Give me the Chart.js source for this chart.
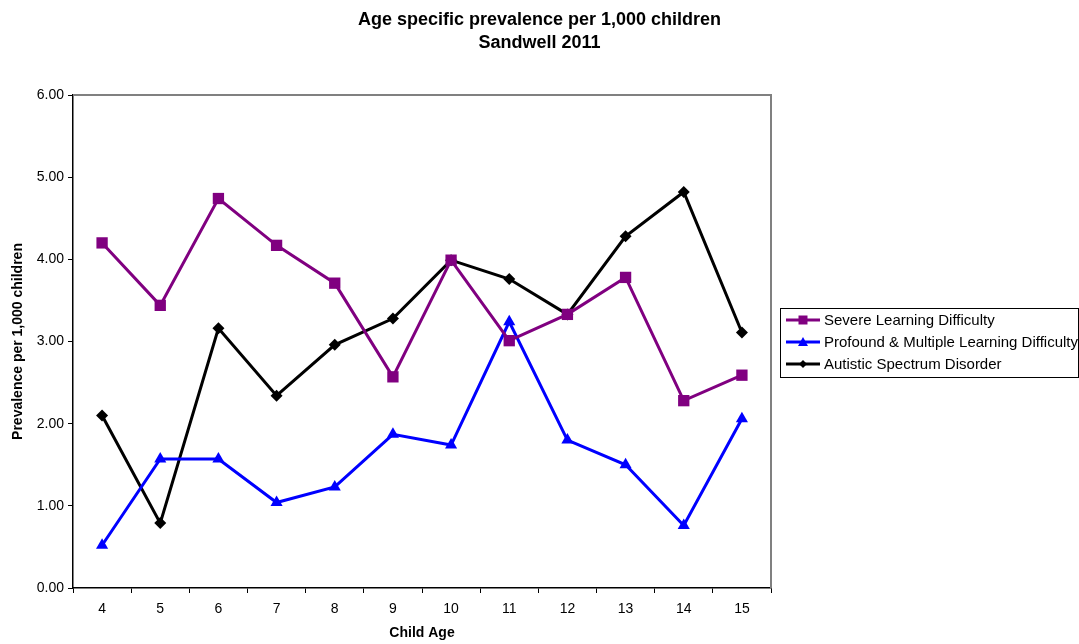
<!DOCTYPE html>
<html>
<head>
<meta charset="utf-8">
<script src="https://cdn.jsdelivr.net/npm/chart.js@4/dist/chart.umd.min.js"></script>
<style>
  html, body { margin: 0; padding: 0; background: #fff; }
  #wrap { position: relative; width: 1079px; height: 644px; }
</style>
</head>
<body>
<div id="wrap"><canvas id="chart"></canvas></div>
<script>
const ages = ['4', '5', '6', '7', '8', '9', '10', '11', '12', '13', '14', '15'];
const severe = [4.20, 3.44, 4.74, 4.17, 3.71, 2.57, 3.99, 3.01, 3.33, 3.78, 2.28, 2.59];
const profound = [0.52, 1.57, 1.57, 1.04, 1.23, 1.87, 1.74, 3.24, 1.80, 1.50, 0.76, 2.06];
const autistic = [2.10, 0.79, 3.16, 2.34, 2.96, 3.28, 3.99, 3.76, 3.33, 4.28, 4.82, 3.11];
const yTicks = [0, 1, 2, 3, 4, 5, 6];
const titleLines = ['Age specific prevalence per 1,000 children', 'Sandwell 2011'];

const FONT = 'Arial, "Liberation Sans", sans-serif';

// plot frame (grey top/right border like Excel)
const framePlugin = {
    id: 'frame',
    beforeDatasetsDraw(chart) {
        const a = chart.chartArea, ctx = chart.ctx;
        ctx.save();
        ctx.strokeStyle = '#808080';
        ctx.lineWidth = 2;
        ctx.beginPath();
        ctx.moveTo(a.left, a.top);
        ctx.lineTo(a.right, a.top);
        ctx.lineTo(a.right, a.bottom);
        ctx.stroke();
        ctx.restore();
    }
};

// title centred on the whole canvas, not the plot
const pageTitle = {
    id: 'pageTitle',
    afterDraw(chart) {
        const ctx = chart.ctx;
        ctx.save();
        ctx.font = 'bold 18px ' + FONT;
        ctx.fillStyle = '#000';
        ctx.textAlign = 'center';
        ctx.textBaseline = 'middle';
        titleLines.forEach((t, i) => ctx.fillText(t, chart.width / 2, 20 + i * 23));
        ctx.restore();
    }
};

// boxed legend with line + marker samples
const legendPlugin = {
    id: 'boxLegend',
    afterDraw(chart) {
        const ctx = chart.ctx;
        const x = 780, y = 308, w = 299, h = 70;
        ctx.save();
        ctx.strokeStyle = '#000';
        ctx.lineWidth = 1;
        ctx.strokeRect(x + 0.5, y + 0.5, w - 1, h - 1);
        ctx.font = '15px ' + FONT;
        ctx.textBaseline = 'middle';
        chart.data.datasets.forEach((ds, i) => {
            const cy = y + 12 + i * 22;
            ctx.strokeStyle = ds.borderColor;
            ctx.lineWidth = 3;
            ctx.beginPath();
            ctx.moveTo(x + 6, cy);
            ctx.lineTo(x + 40, cy);
            ctx.stroke();
            ctx.fillStyle = ds.backgroundColor;
            const cx = x + 23;
            ctx.beginPath();
            if (ds.pointStyle === 'rect') {
                ctx.rect(cx - 4.5, cy - 4.5, 9, 9);
            } else if (ds.pointStyle === 'triangle') {
                ctx.moveTo(cx, cy - 5);
                ctx.lineTo(cx + 5, cy + 4);
                ctx.lineTo(cx - 5, cy + 4);
                ctx.closePath();
            } else {
                ctx.moveTo(cx, cy - 4);
                ctx.lineTo(cx + 4, cy);
                ctx.lineTo(cx, cy + 4);
                ctx.lineTo(cx - 4, cy);
                ctx.closePath();
            }
            ctx.fill();
            ctx.fillStyle = '#000';
            ctx.fillText(ds.label, x + 44, cy + 1);
        });
        ctx.restore();
    }
};

new Chart(document.getElementById('chart'), {
    type: 'line',
    data: {
        labels: ages,
        datasets: [
            {
                label: 'Severe Learning Difficulty',
                data: severe,
                borderColor: '#800080',
                backgroundColor: '#800080',
                borderWidth: 3,
                pointStyle: 'rect',
                pointRadius: 8,
                pointBorderWidth: 0,
                tension: 0
            },
            {
                label: 'Profound & Multiple Learning Difficulty',
                data: profound,
                borderColor: '#0000ff',
                backgroundColor: '#0000ff',
                borderWidth: 3,
                pointStyle: 'triangle',
                pointRadius: 7,
                pointBorderWidth: 0,
                tension: 0
            },
            {
                label: 'Autistic Spectrum Disorder',
                data: autistic,
                borderColor: '#000000',
                backgroundColor: '#000000',
                borderWidth: 3,
                pointStyle: 'rectRot',
                pointRadius: 6,
                pointBorderWidth: 0,
                tension: 0
            }
        ]
    },
    options: {
        responsive: true,
        maintainAspectRatio: false,
        animation: false,
        layout: { padding: { left: 0, right: 308, top: 95, bottom: 0 } },
        plugins: {
            legend: { display: false },
            tooltip: { enabled: false },
            title: { display: false }
        },
        scales: {
            x: {
                offset: true,
                grid: { offset: true, drawOnChartArea: false, drawTicks: true, tickLength: 5, color: '#000' },
                border: { color: '#000', width: 1.5 },
                ticks: { color: '#000', font: { family: FONT, size: 14 }, padding: 8, maxRotation: 0 },
                title: { display: true, text: 'Child Age', color: '#000', font: { family: FONT, size: 14, weight: 'bold' }, padding: { top: 4, bottom: 2 } },
                afterFit(scale) { scale.height = 56; }
            },
            y: {
                min: 0,
                max: 6,
                afterBuildTicks(scale) { scale.ticks = yTicks.map(v => ({ value: v })); },
                grid: { drawOnChartArea: false, drawTicks: true, tickLength: 5, color: '#000' },
                border: { color: '#000', width: 1.5 },
                ticks: { color: '#000', font: { family: FONT, size: 14 }, padding: 4, callback: v => Number(v).toFixed(2) },
                title: { display: true, text: 'Prevalence per 1,000 children', color: '#000', font: { family: FONT, size: 14, weight: 'bold' }, padding: { top: 10, bottom: 4 } },
                afterFit(scale) { scale.width = 73; }
            }
        }
    },
    plugins: [framePlugin, pageTitle, legendPlugin]
});
</script>
</body>
</html>
